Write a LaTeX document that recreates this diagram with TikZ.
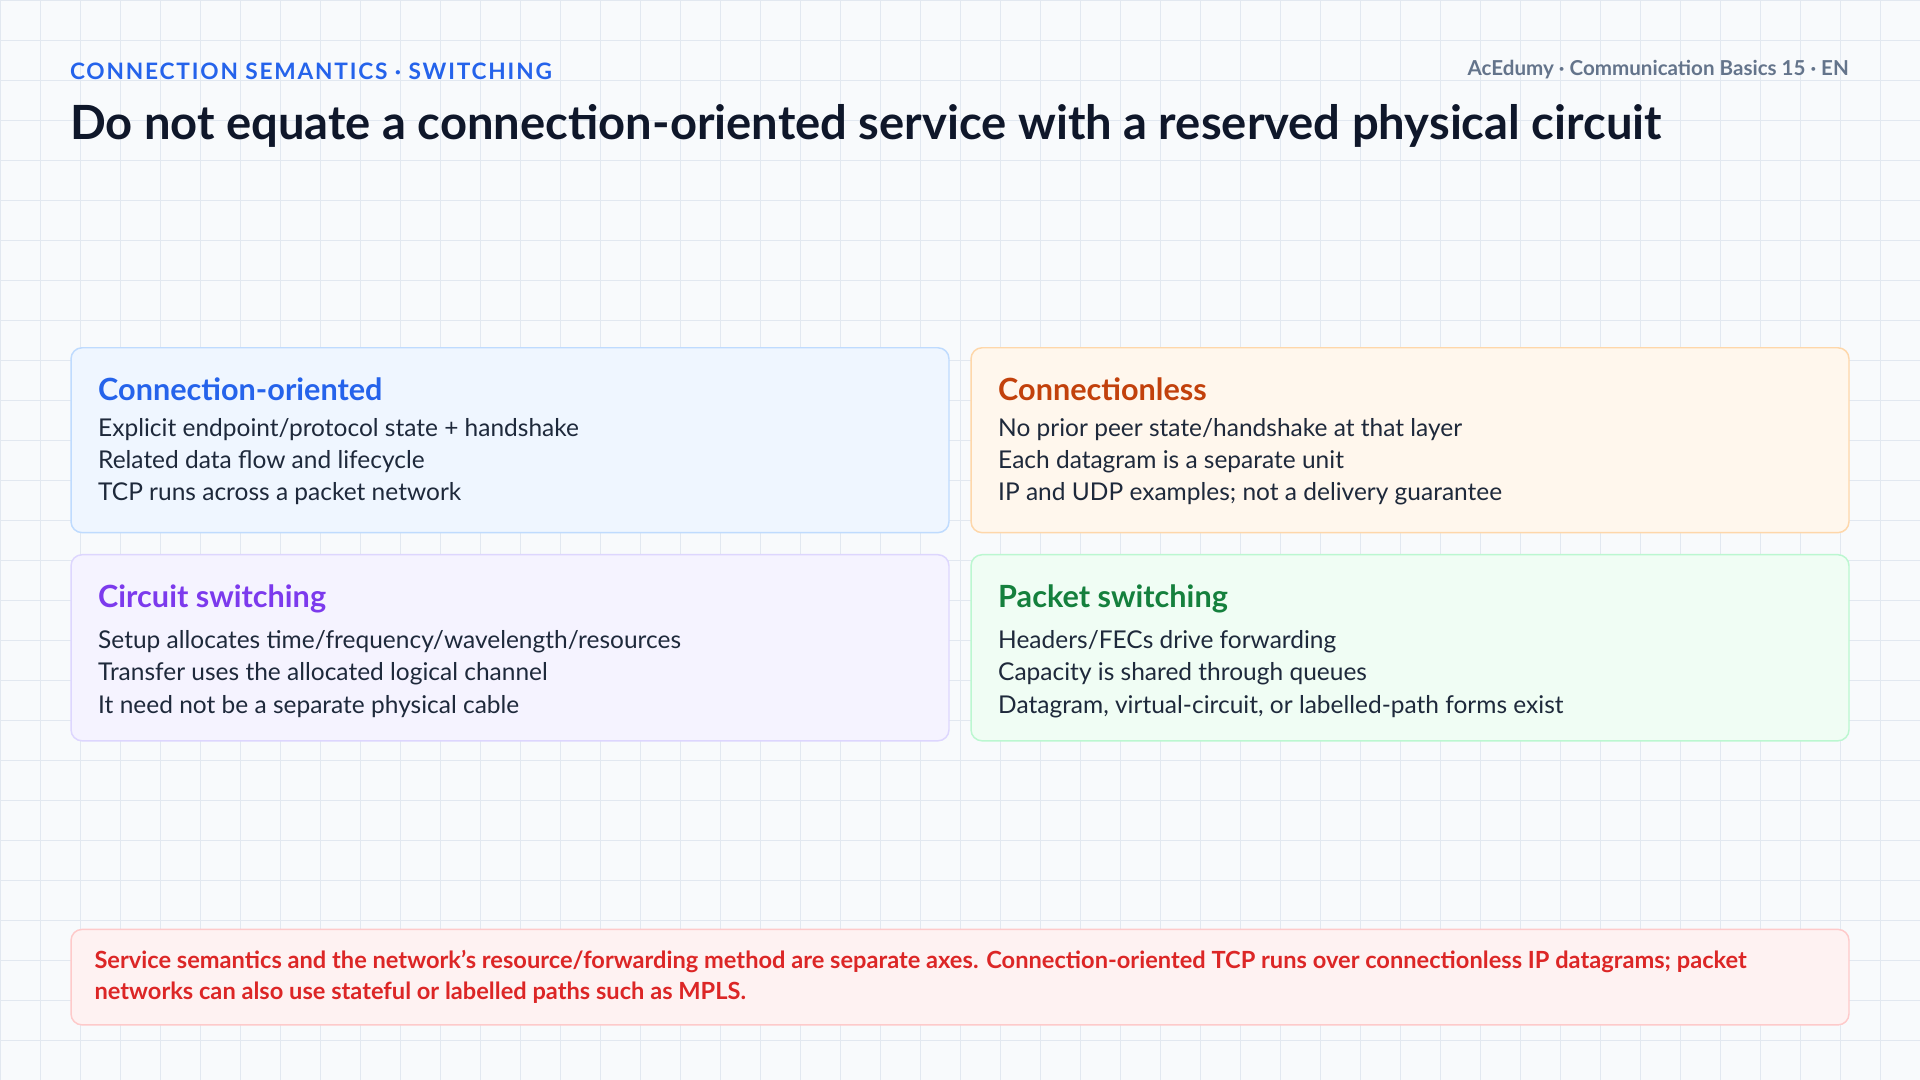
\documentclass[tikz,border=0pt]{standalone}
\usepackage{fontspec}
\setmainfont{Lato}
\usetikzlibrary{positioning}
\definecolor{gridc}{HTML}{E2E8F0}
\definecolor{pagebg}{HTML}{F8FAFC}
\definecolor{kicker}{HTML}{2563EB}
\definecolor{ink}{HTML}{0F172A}
\definecolor{muted}{HTML}{64748B}
\definecolor{body}{HTML}{1E293B}
\definecolor{coline}{HTML}{BFDBFE}\definecolor{cofill}{HTML}{EFF6FF}\definecolor{cotext}{HTML}{2563EB}
\definecolor{clline}{HTML}{FED7AA}\definecolor{clfill}{HTML}{FFF7ED}\definecolor{cltext}{HTML}{C2410C}
\definecolor{csline}{HTML}{DDD6FE}\definecolor{csfill}{HTML}{F5F3FF}\definecolor{cstext}{HTML}{7C3AED}
\definecolor{psline}{HTML}{BBF7D0}\definecolor{psfill}{HTML}{F0FDF4}\definecolor{pstext}{HTML}{15803D}
\definecolor{noteline}{HTML}{FECACA}\definecolor{notefill}{HTML}{FEF2F2}\definecolor{notetext}{HTML}{DC2626}
\tikzset{
    card/.style={draw=#1line, fill=#1fill, line width=1.2pt, rounded corners=9pt},
    cardtitle/.style={anchor=north west, font=\fontsize{25}{29}\selectfont\bfseries, text=#1text, inner sep=0pt},
    cardbody/.style={anchor=north west, font=\fontsize{20}{26.5}\selectfont, text=body, inner sep=0pt, align=left}
}
\begin{document}
\begin{tikzpicture}[x=1pt,y=-1pt]
	\useasboundingbox (0,0) rectangle (1568,882);
	\fill[pagebg] (0,0) rectangle (1568,882);
	% grille de fond
	\foreach \i in {0,...,48}
		\draw[gridc, line width=0.6pt] (\i*32.67,0) -- (\i*32.67,882);
	\foreach \j in {0,...,27}
		\draw[gridc, line width=0.6pt] (0,\j*32.67) -- (1568,\j*32.67);

	% en-tete
	\node[anchor=west, inner sep=0pt, text=kicker, font=\fontsize{18.5}{20}\selectfont\bfseries\addfontfeature{LetterSpace=8}] (kicker) at (57,58) {CONNECTION SEMANTICS · SWITCHING};
	\node[anchor=east, inner sep=0pt, text=muted, font=\fontsize{16.8}{18}\selectfont\bfseries] (brand) at (1510,57) {AcEdumy · Communication Basics 15 · EN};
	\node[anchor=west, inner sep=0pt, text=ink, font=\fontsize{38.5}{42}\selectfont\bfseries] (title) at (57,103) {Do not equate a connection-oriented service with a reserved physical circuit};

	% les quatre cartes
	\draw[card=co] (58,284) rectangle (775,435);
	\node[cardtitle=co] (cotitle) at (80,308) {Connection-oriented};
	\node[below=14pt of cotitle.south west, cardbody] (cobody) {Explicit endpoint/protocol state + handshake\\Related data flow and lifecycle\\TCP runs across a packet network};

	\draw[card=cl] (793,284) rectangle (1510,435);
	\node[cardtitle=cl] (cltitle) at (815,308) {Connectionless};
	\node[below=14pt of cltitle.south west, cardbody] (clbody) {No prior peer state/handshake at that layer\\Each datagram is a separate unit\\IP and UDP examples; not a delivery guarantee};

	\draw[card=cs] (58,453) rectangle (775,605);
	\node[cardtitle=cs] (cstitle) at (80,477) {Circuit switching};
	\node[below=14pt of cstitle.south west, cardbody] (csbody) {Setup allocates time/frequency/wavelength/resources\\Transfer uses the allocated logical channel\\It need not be a separate physical cable};

	\draw[card=ps] (793,453) rectangle (1510,605);
	\node[cardtitle=ps] (pstitle) at (815,477) {Packet switching};
	\node[below=14pt of pstitle.south west, cardbody] (psbody) {Headers/FECs drive forwarding\\Capacity is shared through queues\\Datagram, virtual-circuit, or labelled-path forms exist};

	% note du bas
	\draw[card=note] (58,759) rectangle (1510,837);
	\node[anchor=north west, inner sep=0pt, text=notetext, align=left, font=\fontsize{19.3}{25}\selectfont\bfseries] (note) at (77,776) {Service semantics and the network's resource/forwarding method are separate axes. Connection-oriented TCP runs over connectionless IP datagrams; packet\\networks can also use stateful or labelled paths such as MPLS.};
\end{tikzpicture}
\end{document}
